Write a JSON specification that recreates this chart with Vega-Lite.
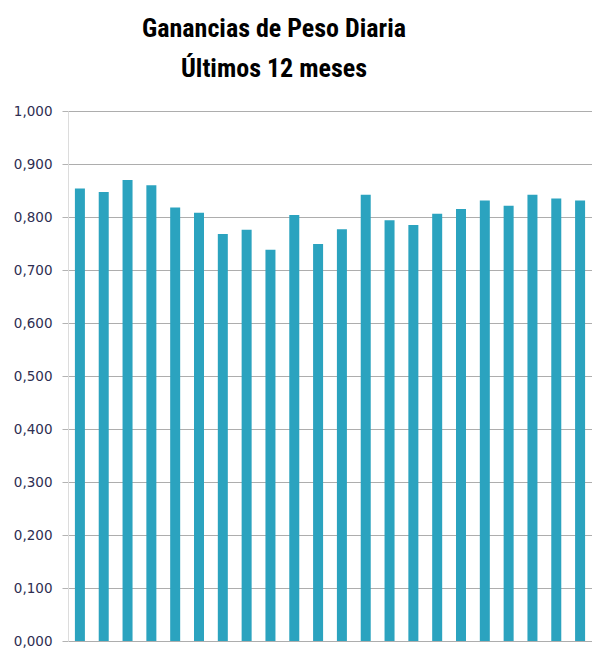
{
  "$schema": "https://vega.github.io/schema/vega-lite/v6.json",
  "autosize": "none",
  "padding": {"left": 68, "top": 111, "right": 0, "bottom": 7},
  "width": 524,
  "height": 530,
  "title": {
    "text": ["Ganancias de Peso Diaria", "Últimos 12 meses"],
    "font": "Roboto Condensed, DejaVu Sans Condensed, Roboto",
    "fontSize": 26,
    "fontWeight": "bold",
    "color": "#000000",
    "lineHeight": 40,
    "anchor": "middle",
    "frame": "group",
    "dx": -56,
    "offset": 22
  },
  "data": {
    "values": [
      {"mes": 1, "valor": 0.854},
      {"mes": 2, "valor": 0.847},
      {"mes": 3, "valor": 0.870},
      {"mes": 4, "valor": 0.860},
      {"mes": 5, "valor": 0.818},
      {"mes": 6, "valor": 0.808},
      {"mes": 7, "valor": 0.768},
      {"mes": 8, "valor": 0.776},
      {"mes": 9, "valor": 0.738},
      {"mes": 10, "valor": 0.804},
      {"mes": 11, "valor": 0.749},
      {"mes": 12, "valor": 0.777},
      {"mes": 13, "valor": 0.842},
      {"mes": 14, "valor": 0.794},
      {"mes": 15, "valor": 0.785},
      {"mes": 16, "valor": 0.806},
      {"mes": 17, "valor": 0.815},
      {"mes": 18, "valor": 0.831},
      {"mes": 19, "valor": 0.821},
      {"mes": 20, "valor": 0.842},
      {"mes": 21, "valor": 0.835},
      {"mes": 22, "valor": 0.831}
    ]
  },
  "mark": {"type": "bar", "color": "#2ba3bf"},
  "encoding": {
    "x": {
      "field": "mes",
      "type": "ordinal",
      "scale": {"paddingInner": 0.58, "paddingOuter": 0.29},
      "axis": null
    },
    "y": {
      "field": "valor",
      "type": "quantitative",
      "scale": {"domain": [0, 1], "nice": false},
      "axis": {
        "title": null,
        "values": [0, 0.1, 0.2, 0.3, 0.4, 0.5, 0.6, 0.7, 0.8, 0.9, 1.0],
        "labelExpr": "replace(format(datum.value, '.3f'), '.', ',')",
        "labelFont": "DejaVu Sans",
        "labelFontSize": 13.5,
        "labelColor": "#2e2e52",
        "labelPadding": 10,
        "tickSize": 6,
        "tickColor": "#b3b3b3",
        "grid": true,
        "gridColor": "#adadad",
        "gridWidth": 1,
        "domain": true,
        "domainColor": "#dcdcdc",
        "domainWidth": 1
      }
    }
  },
  "config": {
    "view": {"stroke": null}
  }
}
